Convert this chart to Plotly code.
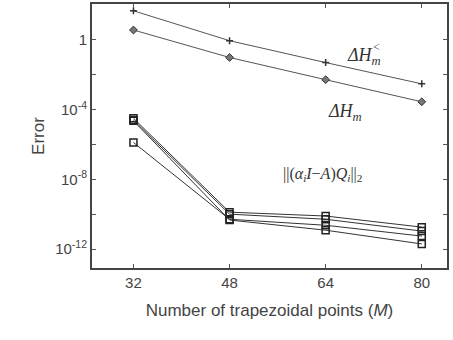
import plotly.graph_objects as go

M = [32, 48, 64, 80]
dH_less = [46.8, 0.9, 0.05, 0.003]
dH = [3.7, 0.098, 0.0052, 2.8e-4]
res1 = [3.2e-5, 1.3e-10, 7.8e-11, 1.8e-11]
res2 = [2.5e-5, 1.0e-10, 5.1e-11, 1.07e-11]
res3 = [1.3e-6, 5.1e-11, 2.3e-11, 5.5e-12]
res4 = [2.3e-5, 4.6e-11, 1.2e-11, 1.95e-12]
ytick_vals = [1, 1e-2, 1e-4, 1e-6, 1e-8, 1e-10, 1e-12]
ytick_text = ["1", "", "10<sup>-4</sup>", "", "10<sup>-8</sup>", "", "10<sup>-12</sup>"]

fig = go.Figure()
line_col = "#555555"
fig.add_trace(go.Scatter(x=M, y=dH_less, mode="lines+markers",
                         line=dict(color=line_col, width=1),
                         marker=dict(symbol="cross-thin", size=5, line=dict(color="#333", width=1.5))))
fig.add_trace(go.Scatter(x=M, y=dH, mode="lines+markers",
                         line=dict(color=line_col, width=1),
                         marker=dict(symbol="diamond", size=6, color="#777", line=dict(color="#333", width=1))))
for r in [res1, res2, res3, res4]:
    fig.add_trace(go.Scatter(x=M, y=r, mode="lines+markers",
                             line=dict(color="#333333", width=1),
                             marker=dict(symbol="square-open", size=7, color="#222", line=dict(width=1.5))))

serif = "Liberation Serif"
fig.add_annotation(x=0.765, xref="paper", y=0.80, yref="paper", showarrow=False,
                   xanchor="center", yanchor="middle",
                   text="<i>ΔH</i><sub><i>m</i></sub>",
                   font=dict(family=serif, size=18, color="#333"))
fig.add_annotation(x=0.818, xref="paper", y=0.87, yref="paper", showarrow=False,
                   text="&lt;", font=dict(family=serif, size=12, color="#333"))
fig.add_annotation(x=0.765, xref="paper", y=0.59, yref="paper", showarrow=False,
                   text="<i>ΔH</i><sub><i>m</i></sub>",
                   font=dict(family=serif, size=18, color="#333"))
fig.add_annotation(x=0.65, xref="paper", y=0.31, yref="paper", showarrow=False,
                   text="||(<i>α</i><sub><i>i</i></sub><i>I</i>−<i>A</i>)<i>Q</i><sub><i>i</i></sub>||<sub>2</sub>",
                   font=dict(family=serif, size=16, color="#333"))

fig.update_layout(
    width=453, height=340,
    margin=dict(l=92, r=6, t=4, b=72),
    paper_bgcolor="white", plot_bgcolor="white",
    showlegend=False,
    font=dict(family="Liberation Sans", color="#444"),
    xaxis=dict(range=[25.1, 84.2], tickvals=M, ticktext=[str(m) for m in M], automargin=False,
               ticks="inside", ticklen=4, tickcolor="#555", mirror="ticks",
               showline=True, linecolor="#444", linewidth=2, showgrid=False, zeroline=False,
               tickfont=dict(size=15, color="#444"),
               title=dict(text="Number of trapezoidal points (<i>M</i>)", font=dict(size=17, color="#444"), standoff=14)),
    yaxis=dict(type="log", range=[-13.09, 2.06], tickvals=ytick_vals, ticktext=ytick_text, automargin=False,
               ticks="inside", ticklen=4, tickcolor="#555", mirror="ticks",
               showline=True, linecolor="#444", linewidth=2, showgrid=False, zeroline=False,
               tickfont=dict(size=15, color="#444"),
               title=dict(text="Error", font=dict(size=17, color="#444"), standoff=6)),
)
fig.write_html("out.html", config={"displayModeBar": False},
               post_script="document.body.style.margin='0px';")
